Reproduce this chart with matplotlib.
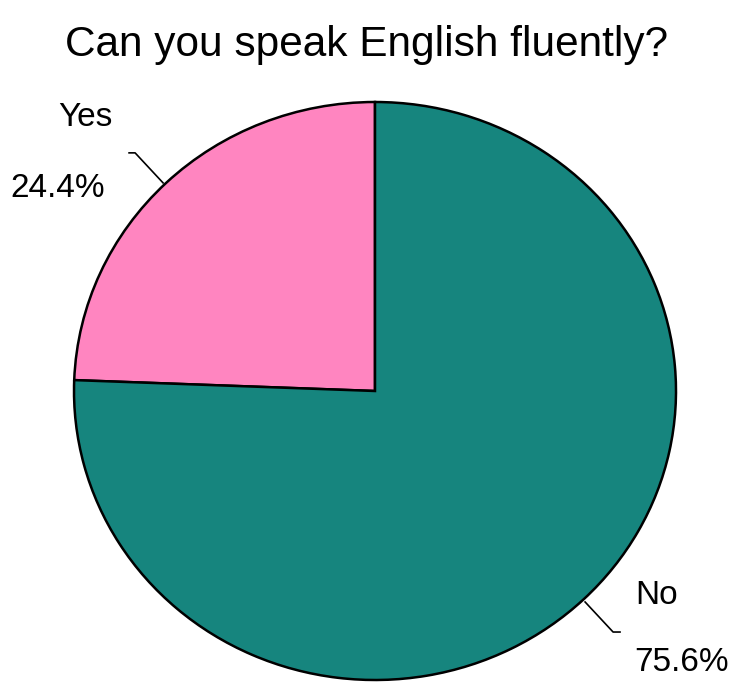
import matplotlib
matplotlib.use('Agg')
import matplotlib.pyplot as plt

plt.rcParams['font.family'] = ['Liberation Sans', 'DejaVu Sans']

# Data
labels = ['Yes', 'No']
values = [24.4, 75.6]
colors = ['#ff85c0', '#16857e']
title = 'Can you speak English fluently?'

fig = plt.figure(figsize=(7.34, 6.82), dpi=100)
# pie is slightly wider than tall in the reference
ax = fig.add_axes([74 / 734, 2 / 682, 602 / 734, 578 / 682])

ax.pie(values, colors=colors, startangle=90, counterclock=True,
       wedgeprops=dict(edgecolor='black', linewidth=1.8), normalize=True)
ax.set_aspect('auto')
ax.set_xlim(-1, 1)
ax.set_ylim(-1, 1)
ax.axis('off')

# labels with leader lines
ax.text(-0.963, 0.945, labels[0], fontsize=24, ha='center', va='center', clip_on=False)
ax.text(-1.053, 0.702, '%.1f%%' % values[0], fontsize=24, ha='center', va='center', clip_on=False)
ax.plot([-0.817, -0.797, -0.704], [0.824, 0.824, 0.720], color='black', lw=1.2, clip_on=False)

ax.text(0.937, -0.709, labels[1], fontsize=24, ha='center', va='center', clip_on=False)
ax.text(1.017, -0.941, '%.1f%%' % values[1], fontsize=24, ha='center', va='center', clip_on=False)
ax.plot([0.698, 0.791, 0.814], [-0.730, -0.834, -0.834], color='black', lw=1.2, clip_on=False)

fig.text(367 / 734, 1 - 45 / 682, title, fontsize=30.5, ha='center', va='center')

plt.savefig('out.png', dpi=100)
